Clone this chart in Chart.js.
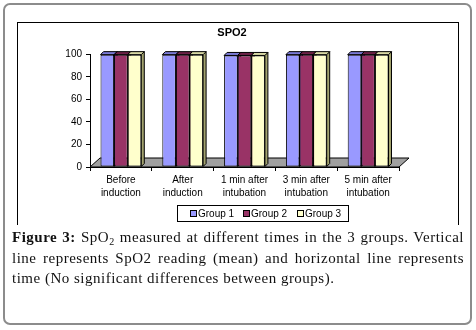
<!DOCTYPE html>
<html lang="en">
  <head>
    <meta charset="UTF-8" />
    <title>SPO2</title>
    <script src="https://cdn.jsdelivr.net/npm/chart.js"></script>
    <style>
      body { margin: 0; width: 476px; height: 330px; background: #fff; position: relative; overflow: hidden; }
      #moldura { position: absolute; left: 3px; top: 3px; width: 465px; height: 318px; border: 2px solid #8c8c8c; border-radius: 7px; }
      #caixa { position: absolute; left: 17px; top: 22px; width: 440px; height: 202px; border: 1px solid #000; border-bottom: none; }
      #grafico { position: absolute; left: 17px; top: 22px; width: 442px; height: 202px; }
      #legenda { position: absolute; left: 177px; top: 205px; width: 170px; height: 15px; border: 1px solid #000; background: #fff; font: 10px "Liberation Sans", Arial, sans-serif; }
      .item { position: absolute; top: 1px; line-height: 13px; white-space: nowrap; }
      .item i { display: inline-block; width: 5px; height: 5px; border: 1px solid #000; margin-right: 1px; }
      #legenda-texto { position: absolute; left: 12px; top: 227px; width: 452px; font: 15px "Liberation Serif", "DejaVu Serif", serif; letter-spacing: 0.5px; line-height: 20.5px; color: #111; }
      .just { text-align: justify; text-align-last: justify; height: 20.5px; }
      .sub { font-size: 10px; position: relative; top: 3px; line-height: 0; }
    </style>
  </head>
  <body>
    <div id="moldura"></div>
    <div id="caixa"></div>
    <div id="grafico"><canvas id="spo2"></canvas></div>
    <div id="legenda"></div>
    <div id="legenda-texto">
      <div class="just"><b>Figure 3:</b> SpO<span class="sub">2</span> measured at different times in the 3 groups. Vertical</div>
      <div class="just">line represents SpO2 reading (mean) and horizontal line represents</div>
      <div>time (No significant differences between groups).</div>
    </div>

    <script>
      // dados
      const momentos = [
        ["Before", "induction"],
        ["After", "induction"],
        ["1 min after", "intubation"],
        ["3 min after", "intubation"],
        ["5 min after", "intubation"],
      ];
      const grupo1 = [99.6, 99.6, 98.9, 99.6, 99.6];
      const grupo2 = [99.6, 99.6, 98.9, 99.6, 99.6];
      const grupo3 = [99.6, 99.6, 98.9, 99.6, 99.6];
      const nomesGrupos = ["Group 1", "Group 2", "Group 3"];
      const ticksY = [0, 20, 40, 60, 80, 100];

      const frente = ["#9999ff", "#993366", "#ffffcc"];
      const topo = ["#7a7ad6", "#6e2248", "#d8d8a4"];
      const lado = ["#6666b0", "#5a1c3a", "#a3a36e"];

      // efeito 3D: chao e faces laterais desenhados antes das barras
      const efeito3d = {
        id: "efeito3d",
        afterLayout(chart) {
          // titulo centrado na caixa toda, nao so na area do grafico
          if (chart.titleBlock) chart.titleBlock.right = 430;
        },
        beforeDatasetsDraw(chart) {
          const ctx = chart.ctx;
          const a = chart.chartArea;
          ctx.save();
          ctx.lineWidth = 1;
          ctx.strokeStyle = "#000";
          ctx.fillStyle = "#a0a0a0";
          ctx.beginPath();
          ctx.moveTo(a.left, a.bottom);
          ctx.lineTo(a.right, a.bottom);
          ctx.lineTo(a.right + 10, a.bottom - 9);
          ctx.lineTo(a.left + 10, a.bottom - 9);
          ctx.closePath();
          ctx.fill();
          ctx.stroke();
          const d = 3;
          chart.data.datasets.forEach((ds, i) => {
            chart.getDatasetMeta(i).data.forEach((bar) => {
              const esq = bar.x - bar.width / 2;
              const dir = bar.x + bar.width / 2;
              ctx.fillStyle = lado[i];
              ctx.beginPath();
              ctx.moveTo(dir, bar.y);
              ctx.lineTo(dir + d, bar.y - d);
              ctx.lineTo(dir + d, bar.base - d);
              ctx.lineTo(dir, bar.base);
              ctx.closePath();
              ctx.fill();
              ctx.stroke();
              ctx.fillStyle = topo[i];
              ctx.beginPath();
              ctx.moveTo(esq, bar.y);
              ctx.lineTo(esq + d, bar.y - d);
              ctx.lineTo(dir + d, bar.y - d);
              ctx.lineTo(dir, bar.y);
              ctx.closePath();
              ctx.fill();
              ctx.stroke();
            });
          });
          ctx.restore();
        },
      };

      const grupos = [grupo1, grupo2, grupo3];

      new Chart(document.getElementById("spo2"), {
        type: "bar",
        data: {
          labels: momentos,
          datasets: grupos.map((g, i) => ({
            label: nomesGrupos[i],
            data: g,
            backgroundColor: frente[i],
            borderColor: "#000",
            borderWidth: 1,
            borderSkipped: false,
            categoryPercentage: 0.66,
            barPercentage: 1,
          })),
        },
        options: {
          responsive: true,
          maintainAspectRatio: false,
          animation: false,
          events: [],
          layout: { padding: { left: 0, right: 60, top: 0, bottom: 21 } },
          plugins: {
            legend: { display: false },
            tooltip: { enabled: false },
            title: {
              display: true,
              text: "SPO2",
              color: "#000",
              font: { family: "'Liberation Sans', Arial, sans-serif", size: 11, weight: "bold" },
              padding: { top: 4, bottom: 15 },
            },
          },
          scales: {
            x: {
              grid: { display: true, drawOnChartArea: false, drawTicks: true, tickLength: 4, tickColor: "#000", offset: true },
              border: { display: true, color: "#000" },
              ticks: {
                color: "#000",
                padding: 3,
                maxRotation: 0,
                autoSkip: false,
                font: { family: "'Liberation Sans', Arial, sans-serif", size: 10, lineHeight: 1.3 },
              },
              afterFit(scale) { scale.height = 36; },
            },
            y: {
              min: 0,
              max: 100,
              afterBuildTicks(scale) { scale.ticks = ticksY.map((v) => ({ value: v })); },
              grid: { display: true, drawOnChartArea: false, drawTicks: true, tickLength: 4, tickColor: "#000" },
              border: { display: true, color: "#000" },
              ticks: {
                color: "#000",
                padding: 4,
                font: { family: "'Liberation Sans', Arial, sans-serif", size: 10 },
              },
              afterFit(scale) { scale.width = 73; },
            },
          },
        },
        plugins: [efeito3d],
      });

      const legenda = document.getElementById("legenda");
      nomesGrupos.forEach((nome, i) => {
        const item = document.createElement("span");
        item.className = "item";
        item.style.left = [12, 65, 119][i] + "px";
        item.innerHTML = '<i style="background:' + frente[i] + '"></i>' + nome;
        legenda.appendChild(item);
      });
    </script>
  </body>
</html>
